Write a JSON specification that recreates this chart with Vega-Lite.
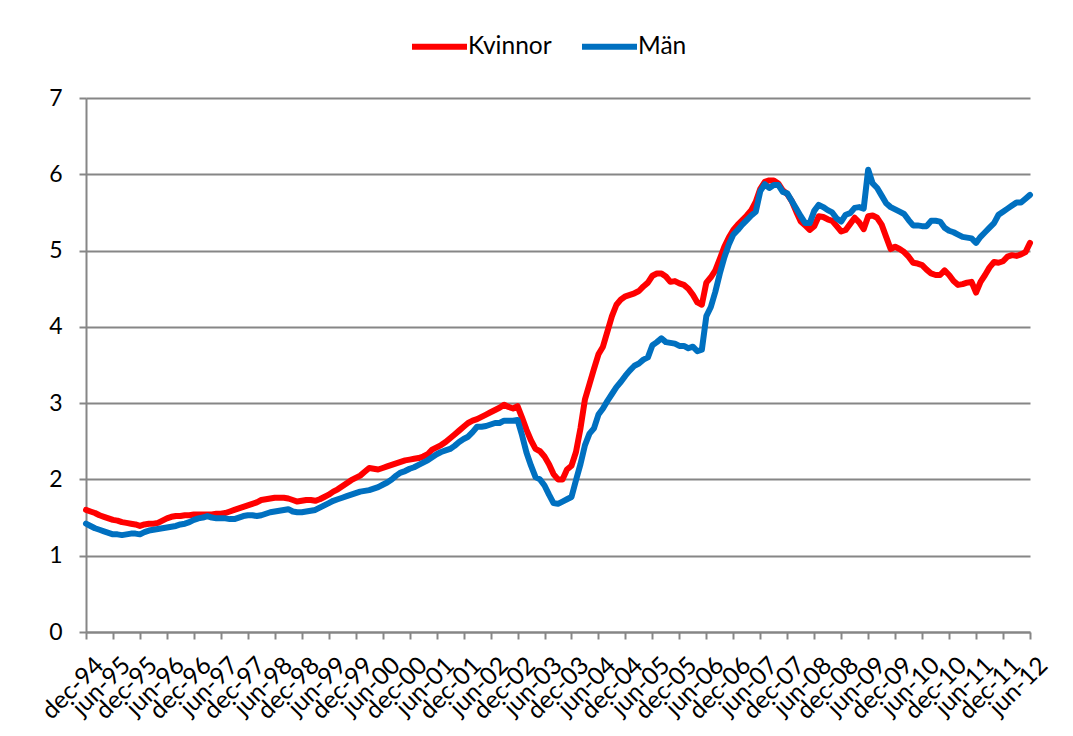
{
  "$schema": "https://vega.github.io/schema/vega-lite/v6.json",
  "width": 944,
  "height": 534,
  "autosize": "none",
  "padding": {"left": 86, "top": 98, "right": 43, "bottom": 104},
  "background": "white",
  "config": {
    "font": "Lato",
    "view": {"stroke": null},
    "axis": {"labelFont": "Lato", "labelColor": "#000000", "domainColor": "#868686", "domainWidth": 2, "tickColor": "#868686", "tickWidth": 2, "gridColor": "#868686", "gridWidth": 2}
  },
  "data": {"values": [
    {"d":"dec-94","Kvinnor":1.60,"Män":1.42},
    {"d":"jan-95","Kvinnor":1.58,"Män":1.39},{"d":"feb-95","Kvinnor":1.56,"Män":1.36},{"d":"mar-95","Kvinnor":1.53,"Män":1.34},{"d":"apr-95","Kvinnor":1.51,"Män":1.32},{"d":"maj-95","Kvinnor":1.49,"Män":1.30},{"d":"jun-95","Kvinnor":1.47,"Män":1.28},{"d":"jul-95","Kvinnor":1.46,"Män":1.28},{"d":"aug-95","Kvinnor":1.44,"Män":1.27},{"d":"sep-95","Kvinnor":1.43,"Män":1.28},{"d":"okt-95","Kvinnor":1.42,"Män":1.29},{"d":"nov-95","Kvinnor":1.41,"Män":1.29},{"d":"dec-95","Kvinnor":1.39,"Män":1.28},
    {"d":"jan-96","Kvinnor":1.41,"Män":1.31},{"d":"feb-96","Kvinnor":1.42,"Män":1.33},{"d":"mar-96","Kvinnor":1.42,"Män":1.34},{"d":"apr-96","Kvinnor":1.43,"Män":1.35},{"d":"maj-96","Kvinnor":1.46,"Män":1.36},{"d":"jun-96","Kvinnor":1.49,"Män":1.37},{"d":"jul-96","Kvinnor":1.51,"Män":1.38},{"d":"aug-96","Kvinnor":1.52,"Män":1.39},{"d":"sep-96","Kvinnor":1.52,"Män":1.41},{"d":"okt-96","Kvinnor":1.53,"Män":1.42},{"d":"nov-96","Kvinnor":1.53,"Män":1.44},{"d":"dec-96","Kvinnor":1.54,"Män":1.47},
    {"d":"jan-97","Kvinnor":1.54,"Män":1.49},{"d":"feb-97","Kvinnor":1.54,"Män":1.50},{"d":"mar-97","Kvinnor":1.54,"Män":1.52},{"d":"apr-97","Kvinnor":1.54,"Män":1.50},{"d":"maj-97","Kvinnor":1.55,"Män":1.49},{"d":"jun-97","Kvinnor":1.55,"Män":1.49},{"d":"jul-97","Kvinnor":1.56,"Män":1.49},{"d":"aug-97","Kvinnor":1.58,"Män":1.48},{"d":"sep-97","Kvinnor":1.60,"Män":1.48},{"d":"okt-97","Kvinnor":1.62,"Män":1.50},{"d":"nov-97","Kvinnor":1.64,"Män":1.52},{"d":"dec-97","Kvinnor":1.66,"Män":1.53},
    {"d":"jan-98","Kvinnor":1.68,"Män":1.53},{"d":"feb-98","Kvinnor":1.70,"Män":1.52},{"d":"mar-98","Kvinnor":1.73,"Män":1.53},{"d":"apr-98","Kvinnor":1.74,"Män":1.55},{"d":"maj-98","Kvinnor":1.75,"Män":1.57},{"d":"jun-98","Kvinnor":1.76,"Män":1.58},{"d":"jul-98","Kvinnor":1.76,"Män":1.59},{"d":"aug-98","Kvinnor":1.76,"Män":1.60},{"d":"sep-98","Kvinnor":1.75,"Män":1.61},{"d":"okt-98","Kvinnor":1.73,"Män":1.58},{"d":"nov-98","Kvinnor":1.71,"Män":1.57},{"d":"dec-98","Kvinnor":1.72,"Män":1.57},
    {"d":"jan-99","Kvinnor":1.73,"Män":1.58},{"d":"feb-99","Kvinnor":1.73,"Män":1.59},{"d":"mar-99","Kvinnor":1.72,"Män":1.60},{"d":"apr-99","Kvinnor":1.74,"Män":1.63},{"d":"maj-99","Kvinnor":1.77,"Män":1.66},{"d":"jun-99","Kvinnor":1.80,"Män":1.69},{"d":"jul-99","Kvinnor":1.84,"Män":1.72},{"d":"aug-99","Kvinnor":1.87,"Män":1.74},{"d":"sep-99","Kvinnor":1.91,"Män":1.76},{"d":"okt-99","Kvinnor":1.95,"Män":1.78},{"d":"nov-99","Kvinnor":1.99,"Män":1.80},{"d":"dec-99","Kvinnor":2.02,"Män":1.82},
    {"d":"jan-00","Kvinnor":2.05,"Män":1.84},{"d":"feb-00","Kvinnor":2.10,"Män":1.85},{"d":"mar-00","Kvinnor":2.15,"Män":1.86},{"d":"apr-00","Kvinnor":2.14,"Män":1.88},{"d":"maj-00","Kvinnor":2.13,"Män":1.90},{"d":"jun-00","Kvinnor":2.15,"Män":1.93},{"d":"jul-00","Kvinnor":2.17,"Män":1.96},{"d":"aug-00","Kvinnor":2.19,"Män":2.00},{"d":"sep-00","Kvinnor":2.21,"Män":2.05},{"d":"okt-00","Kvinnor":2.23,"Män":2.09},{"d":"nov-00","Kvinnor":2.25,"Män":2.11},{"d":"dec-00","Kvinnor":2.26,"Män":2.14},
    {"d":"jan-01","Kvinnor":2.27,"Män":2.16},{"d":"feb-01","Kvinnor":2.28,"Män":2.19},{"d":"mar-01","Kvinnor":2.30,"Män":2.22},{"d":"apr-01","Kvinnor":2.33,"Män":2.25},{"d":"maj-01","Kvinnor":2.39,"Män":2.29},{"d":"jun-01","Kvinnor":2.42,"Män":2.33},{"d":"jul-01","Kvinnor":2.45,"Män":2.36},{"d":"aug-01","Kvinnor":2.49,"Män":2.38},{"d":"sep-01","Kvinnor":2.54,"Män":2.40},{"d":"okt-01","Kvinnor":2.59,"Män":2.44},{"d":"nov-01","Kvinnor":2.64,"Män":2.49},{"d":"dec-01","Kvinnor":2.69,"Män":2.53},
    {"d":"jan-02","Kvinnor":2.74,"Män":2.56},{"d":"feb-02","Kvinnor":2.77,"Män":2.62},{"d":"mar-02","Kvinnor":2.79,"Män":2.69},{"d":"apr-02","Kvinnor":2.82,"Män":2.69},{"d":"maj-02","Kvinnor":2.85,"Män":2.70},{"d":"jun-02","Kvinnor":2.88,"Män":2.72},{"d":"jul-02","Kvinnor":2.91,"Män":2.74},{"d":"aug-02","Kvinnor":2.94,"Män":2.74},{"d":"sep-02","Kvinnor":2.98,"Män":2.77},{"d":"okt-02","Kvinnor":2.95,"Män":2.77},{"d":"nov-02","Kvinnor":2.93,"Män":2.77},{"d":"dec-02","Kvinnor":2.96,"Män":2.78},
    {"d":"jan-03","Kvinnor":2.81,"Män":2.58},{"d":"feb-03","Kvinnor":2.65,"Män":2.35},{"d":"mar-03","Kvinnor":2.51,"Män":2.18},{"d":"apr-03","Kvinnor":2.40,"Män":2.03},{"d":"maj-03","Kvinnor":2.37,"Män":2.00},{"d":"jun-03","Kvinnor":2.30,"Män":1.92},{"d":"jul-03","Kvinnor":2.20,"Män":1.80},{"d":"aug-03","Kvinnor":2.07,"Män":1.69},{"d":"sep-03","Kvinnor":2.00,"Män":1.68},{"d":"okt-03","Kvinnor":2.00,"Män":1.71},{"d":"nov-03","Kvinnor":2.13,"Män":1.74},{"d":"dec-03","Kvinnor":2.18,"Män":1.77},
    {"d":"jan-04","Kvinnor":2.36,"Män":1.99},{"d":"feb-04","Kvinnor":2.67,"Män":2.20},{"d":"mar-04","Kvinnor":3.05,"Män":2.45},{"d":"apr-04","Kvinnor":3.25,"Män":2.60},{"d":"maj-04","Kvinnor":3.45,"Män":2.67},{"d":"jun-04","Kvinnor":3.64,"Män":2.85},{"d":"jul-04","Kvinnor":3.74,"Män":2.93},{"d":"aug-04","Kvinnor":3.94,"Män":3.03},{"d":"sep-04","Kvinnor":4.14,"Män":3.12},{"d":"okt-04","Kvinnor":4.29,"Män":3.21},{"d":"nov-04","Kvinnor":4.36,"Män":3.28},{"d":"dec-04","Kvinnor":4.40,"Män":3.36},
    {"d":"jan-05","Kvinnor":4.42,"Män":3.43},{"d":"feb-05","Kvinnor":4.44,"Män":3.49},{"d":"mar-05","Kvinnor":4.47,"Män":3.52},{"d":"apr-05","Kvinnor":4.53,"Män":3.57},{"d":"maj-05","Kvinnor":4.58,"Män":3.60},{"d":"jun-05","Kvinnor":4.67,"Män":3.76},{"d":"jul-05","Kvinnor":4.70,"Män":3.80},{"d":"aug-05","Kvinnor":4.70,"Män":3.85},{"d":"sep-05","Kvinnor":4.66,"Män":3.80},{"d":"okt-05","Kvinnor":4.59,"Män":3.79},{"d":"nov-05","Kvinnor":4.60,"Män":3.78},{"d":"dec-05","Kvinnor":4.57,"Män":3.75},
    {"d":"jan-06","Kvinnor":4.55,"Män":3.75},{"d":"feb-06","Kvinnor":4.50,"Män":3.72},{"d":"mar-06","Kvinnor":4.42,"Män":3.74},{"d":"apr-06","Kvinnor":4.32,"Män":3.68},{"d":"maj-06","Kvinnor":4.29,"Män":3.70},{"d":"jun-06","Kvinnor":4.58,"Män":4.14},{"d":"jul-06","Kvinnor":4.65,"Män":4.26},{"d":"aug-06","Kvinnor":4.74,"Män":4.46},{"d":"sep-06","Kvinnor":4.89,"Män":4.70},{"d":"okt-06","Kvinnor":5.05,"Män":4.91},{"d":"nov-06","Kvinnor":5.17,"Män":5.08},{"d":"dec-06","Kvinnor":5.27,"Män":5.21},
    {"d":"jan-07","Kvinnor":5.34,"Män":5.27},{"d":"feb-07","Kvinnor":5.40,"Män":5.34},{"d":"mar-07","Kvinnor":5.46,"Män":5.40},{"d":"apr-07","Kvinnor":5.53,"Män":5.46},{"d":"maj-07","Kvinnor":5.64,"Män":5.51},{"d":"jun-07","Kvinnor":5.81,"Män":5.78},{"d":"jul-07","Kvinnor":5.90,"Män":5.87},{"d":"aug-07","Kvinnor":5.92,"Män":5.82},{"d":"sep-07","Kvinnor":5.92,"Män":5.86},{"d":"okt-07","Kvinnor":5.88,"Män":5.86},{"d":"nov-07","Kvinnor":5.79,"Män":5.77},{"d":"dec-07","Kvinnor":5.74,"Män":5.75},
    {"d":"jan-08","Kvinnor":5.65,"Män":5.65},{"d":"feb-08","Kvinnor":5.51,"Män":5.55},{"d":"mar-08","Kvinnor":5.38,"Män":5.45},{"d":"apr-08","Kvinnor":5.33,"Män":5.36},{"d":"maj-08","Kvinnor":5.27,"Män":5.36},{"d":"jun-08","Kvinnor":5.32,"Män":5.52},{"d":"jul-08","Kvinnor":5.45,"Män":5.60},{"d":"aug-08","Kvinnor":5.44,"Män":5.57},{"d":"sep-08","Kvinnor":5.41,"Män":5.53},{"d":"okt-08","Kvinnor":5.39,"Män":5.50},{"d":"nov-08","Kvinnor":5.32,"Män":5.42},{"d":"dec-08","Kvinnor":5.25,"Män":5.38},
    {"d":"jan-09","Kvinnor":5.27,"Män":5.47},{"d":"feb-09","Kvinnor":5.35,"Män":5.49},{"d":"mar-09","Kvinnor":5.43,"Män":5.56},{"d":"apr-09","Kvinnor":5.37,"Män":5.57},{"d":"maj-09","Kvinnor":5.28,"Män":5.55},{"d":"jun-09","Kvinnor":5.45,"Män":6.06},{"d":"jul-09","Kvinnor":5.46,"Män":5.88},{"d":"aug-09","Kvinnor":5.43,"Män":5.82},{"d":"sep-09","Kvinnor":5.34,"Män":5.72},{"d":"okt-09","Kvinnor":5.18,"Män":5.62},{"d":"nov-09","Kvinnor":5.02,"Män":5.57},{"d":"dec-09","Kvinnor":5.05,"Män":5.54},
    {"d":"jan-10","Kvinnor":5.02,"Män":5.51},{"d":"feb-10","Kvinnor":4.98,"Män":5.48},{"d":"mar-10","Kvinnor":4.92,"Män":5.40},{"d":"apr-10","Kvinnor":4.84,"Män":5.33},{"d":"maj-10","Kvinnor":4.83,"Män":5.33},{"d":"jun-10","Kvinnor":4.81,"Män":5.32},{"d":"jul-10","Kvinnor":4.75,"Män":5.32},{"d":"aug-10","Kvinnor":4.70,"Män":5.39},{"d":"sep-10","Kvinnor":4.68,"Män":5.39},{"d":"okt-10","Kvinnor":4.68,"Män":5.38},{"d":"nov-10","Kvinnor":4.74,"Män":5.30},{"d":"dec-10","Kvinnor":4.68,"Män":5.26},
    {"d":"jan-11","Kvinnor":4.60,"Män":5.24},{"d":"feb-11","Kvinnor":4.55,"Män":5.21},{"d":"mar-11","Kvinnor":4.56,"Män":5.18},{"d":"apr-11","Kvinnor":4.58,"Män":5.17},{"d":"maj-11","Kvinnor":4.59,"Män":5.16},{"d":"jun-11","Kvinnor":4.45,"Män":5.10},{"d":"jul-11","Kvinnor":4.59,"Män":5.18},{"d":"aug-11","Kvinnor":4.68,"Män":5.24},{"d":"sep-11","Kvinnor":4.78,"Män":5.30},{"d":"okt-11","Kvinnor":4.85,"Män":5.36},{"d":"nov-11","Kvinnor":4.84,"Män":5.47},{"d":"dec-11","Kvinnor":4.86,"Män":5.51},
    {"d":"jan-12","Kvinnor":4.92,"Män":5.55},{"d":"feb-12","Kvinnor":4.94,"Män":5.59},{"d":"mar-12","Kvinnor":4.93,"Män":5.63},{"d":"apr-12","Kvinnor":4.95,"Män":5.63},{"d":"maj-12","Kvinnor":4.98,"Män":5.68},{"d":"jun-12","Kvinnor":5.10,"Män":5.73}
  ]},
  "transform": [{"fold": ["Kvinnor", "Män"], "as": ["serie", "value"]}],
  "mark": {"type": "line", "strokeWidth": 6, "strokeJoin": "round", "strokeCap": "round"},
  "encoding": {
    "x": {
      "field": "d", "type": "ordinal", "sort": null,
      "scale": {"type": "point", "padding": 0},
      "axis": {
        "title": null,
        "values": ["dec-94","jun-95","dec-95","jun-96","dec-96","jun-97","dec-97","jun-98","dec-98","jun-99","dec-99","jun-00","dec-00","jun-01","dec-01","jun-02","dec-02","jun-03","dec-03","jun-04","dec-04","jun-05","dec-05","jun-06","dec-06","jun-07","dec-07","jun-08","dec-08","jun-09","dec-09","jun-10","dec-10","jun-11","dec-11","jun-12"],
        "labelAngle": -45, "labelAlign": "right", "labelBaseline": "top", "labelFontSize": 24.5, "labelPadding": 14, "labelOffset": 5, "tickSize": 7, "grid": false, "labelOverlap": false, "labelBound": false
      }
    },
    "y": {
      "field": "value", "type": "quantitative",
      "scale": {"domain": [0, 7], "nice": false},
      "axis": {"title": null, "values": [0,1,2,3,4,5,6,7], "labelFontSize": 23, "tickSize": 7, "labelPadding": 17, "grid": true}
    },
    "color": {
      "field": "serie", "type": "nominal",
      "scale": {"domain": ["Kvinnor", "Män"], "range": ["#FF0000", "#0070C0"]},
      "legend": {
        "title": null, "orient": "none", "direction": "horizontal", "legendX": 323, "legendY": -82,
        "symbolType": "stroke", "symbolSize": 3025, "symbolStrokeWidth": 6,
        "labelFontSize": 24.5, "labelFont": "Lato", "labelColor": "#000000", "labelOffset": -2, "columnPadding": 18
      }
    }
  }
}
